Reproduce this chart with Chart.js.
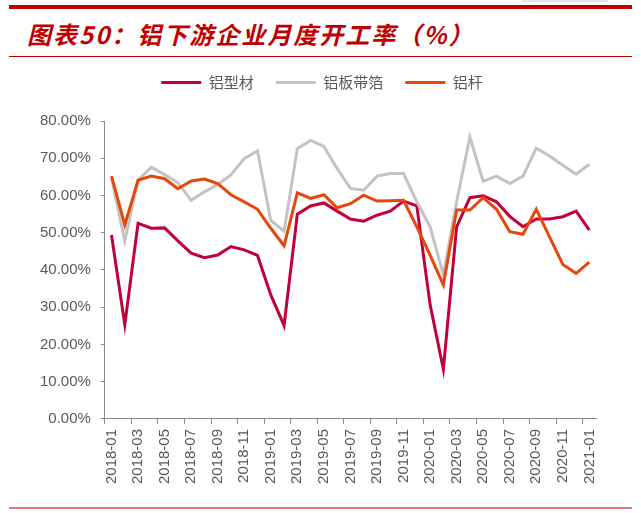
<!DOCTYPE html>
<html>
<head>
<meta charset="utf-8">
<script src="https://cdn.jsdelivr.net/npm/chart.js@4.4.0/dist/chart.umd.min.js"></script>
<style>
  body { margin: 0; background: #fff; }
  #pagina { position: relative; width: 641px; height: 513px; overflow: hidden; }
  #lienzo { position: absolute; left: 0; top: 0; width: 641px; height: 513px; }
  .raya { position: absolute; }
  #titulo {
    position: absolute; left: 27px; top: 19px;
    font-family: "Noto Sans CJK SC", sans-serif; font-size: 24px; line-height: 30px;
    letter-spacing: 2px;
    font-weight: bold; font-style: italic; color: #c00000; white-space: nowrap;
  }
</style>
</head>
<body>
<div id="pagina">
  <div class="raya" style="left:522px;top:0;width:86px;height:2px;background:#dfe5ec"></div>
  <div class="raya" style="left:9px;top:5px;width:623px;height:4px;background:#c00000"></div>
  <div id="titulo">图表50：铝下游企业月度开工率（%）</div>
  <div class="raya" style="left:9px;top:56px;width:623px;height:1px;background:#c00000"></div>
  <div id="lienzo"><canvas id="miGrafica"></canvas></div>
  <div class="raya" style="left:9px;top:507px;width:623px;height:2px;background:#e8777a"></div>
</div>
<script>
// meses (eje X)
const meses = [
  "2018-01","2018-02","2018-03","2018-04","2018-05","2018-06","2018-07","2018-08","2018-09","2018-10","2018-11","2018-12",
  "2019-01","2019-02","2019-03","2019-04","2019-05","2019-06","2019-07","2019-08","2019-09","2019-10","2019-11","2019-12",
  "2020-01","2020-02","2020-03","2020-04","2020-05","2020-06","2020-07","2020-08","2020-09","2020-10","2020-11","2020-12",
  "2021-01"
];

// 铝型材
const perfiles = [49.4, 25.3, 52.5, 51.2, 51.3, 47.8, 44.5, 43.3, 44.0, 46.3, 45.4, 43.9,
  33.3, 25.1, 55.0, 57.2, 58.0, 55.8, 53.7, 53.1, 54.7, 55.8, 58.5, 57.2,
  30.7, 13.3, 51.6, 59.4, 59.9, 58.3, 54.4, 51.6, 53.7, 53.7, 54.3, 55.8,
  50.7];

// 铝板带箔
const laminas = [64.8, 47.8, 64.1, 67.6, 65.6, 63.4, 58.7, 61.0, 62.9, 65.6, 69.9, 72.0,
  53.3, 50.4, 72.6, 74.8, 73.2, 67.2, 61.9, 61.4, 65.2, 65.9, 65.9, 58.3,
  51.6, 38.7, 58.3, 75.7, 63.8, 65.2, 63.2, 65.2, 72.7, 70.6, 68.1, 65.7,
  68.4];

// 铝杆
const varillas = [65.2, 52.1, 64.1, 65.2, 64.5, 61.8, 63.9, 64.4, 63.2, 60.2, 58.3, 56.3,
  51.2, 46.5, 60.7, 59.2, 60.2, 56.7, 57.8, 60.1, 58.5, 58.6, 58.7, 51.6,
  44.0, 36.0, 56.1, 56.1, 59.4, 56.3, 50.3, 49.6, 56.3, 48.9, 41.5, 39.1,
  42.1];

const grisEje = "#898989";
const grisTexto = "#595959";

// separo un poco la leyenda del area del grafico y la corro a la derecha
const margenLeyenda = {
  id: "margenLeyenda",
  beforeInit(chart) {
    const fitOriginal = chart.legend.fit;
    chart.legend.fit = function () {
      fitOriginal.bind(chart.legend)();
      this.height += 21;
    };
  },
  afterLayout(chart) {
    chart.legend.left += 9;
    chart.legend.right += 9;
  }
};

const ctx = document.getElementById("miGrafica").getContext("2d");

new Chart(ctx, {
  type: "line",
  data: {
    labels: meses,
    datasets: [
      { label: "铝型材", data: perfiles, borderColor: "#c2003a", backgroundColor: "#c2003a", borderWidth: 3, order: 3 },
      { label: "铝板带箔", data: laminas, borderColor: "#c3c3c3", backgroundColor: "#c3c3c3", borderWidth: 3, order: 2 },
      { label: "铝杆", data: varillas, borderColor: "#e6470c", backgroundColor: "#e6470c", borderWidth: 3, order: 1 }
    ]
  },
  plugins: [margenLeyenda],
  options: {
    responsive: true,
    maintainAspectRatio: false,
    animation: false,
    layout: { padding: { left: 30, right: 45, top: 53, bottom: 24 } },
    elements: {
      line: { tension: 0, fill: false },
      point: { radius: 0, hoverRadius: 0 }
    },
    plugins: {
      tooltip: { enabled: false },
      legend: {
        position: "top",
        labels: {
          usePointStyle: true,
          pointStyle: "line",
          pointStyleWidth: 40,
          padding: 22,
          color: grisTexto,
          font: { family: "'Noto Sans CJK SC', sans-serif", size: 15 },
          sort: (a, b) => a.datasetIndex - b.datasetIndex
        }
      }
    },
    scales: {
      x: {
        offset: true,
        grid: {
          offset: true,
          drawOnChartArea: false,
          drawTicks: true,
          tickLength: 5,
          tickColor: c => (c.index !== undefined && c.index % 2 === 0) ? grisEje : "rgba(0,0,0,0)"
        },
        border: { color: grisEje, width: 1 },
        ticks: {
          autoSkip: false,
          minRotation: 90,
          maxRotation: 90,
          padding: 5,
          color: grisTexto,
          font: { family: "'Liberation Sans', Arial, sans-serif", size: 15 },
          callback: (v, i) => i % 2 === 0 ? meses[i] : ""
        }
      },
      y: {
        min: 0,
        max: 80,
        grid: { drawOnChartArea: false, drawTicks: true, tickLength: 4, tickColor: grisEje },
        border: { color: grisEje, width: 1 },
        ticks: {
          stepSize: 10,
          padding: 10,
          color: grisTexto,
          font: { family: "'Liberation Sans', Arial, sans-serif", size: 15 },
          callback: v => v.toFixed(2) + "%"
        }
      }
    }
  }
});
</script>
</body>
</html>
